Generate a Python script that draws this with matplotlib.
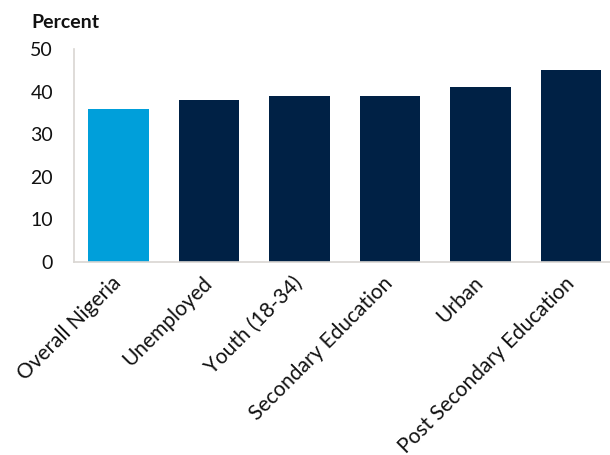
import matplotlib.pyplot as plt

plt.rcParams["font.family"] = ["Lato", "DejaVu Sans"]

# カテゴリと割合 (%)
categories = [
    "Overall Nigeria",
    "Unemployed",
    "Youth (18-34)",
    "Secondary Education",
    "Urban",
    "Post Secondary Education",
]
values = [36, 38, 39, 39, 41, 45]

light_blue = "#009FDA"
navy = "#002145"
colors = [light_blue] + [navy] * (len(values) - 1)

fig = plt.figure(figsize=(6.10, 4.55), dpi=100)
ax = fig.add_axes([74 / 610, 0.424, 1 - 74 / 610, 0.468])

ax.bar(range(len(values)), values, width=0.67, color=colors)

ax.set_ylim(0, 50)
ax.set_xlim(-0.49, 5.43)
ax.set_yticks(range(0, 51, 10))
ax.set_xticks(range(len(categories)))
ax.set_xticklabels(categories, rotation=45, ha="right", va="center",
                   rotation_mode="anchor")

ax.tick_params(axis="both", length=0, colors="#111111")
ax.tick_params(axis="y", labelsize=14, pad=15)
ax.tick_params(axis="x", labelsize=15, pad=13)

for side in ["top", "right"]:
    ax.spines[side].set_visible(False)
for side in ["left", "bottom"]:
    ax.spines[side].set_color("#D9D6D2")
    ax.spines[side].set_linewidth(1.2)

fig.text(31 / 610, 1 - 22 / 455, "Percent", fontsize=14, fontweight="bold",
         va="center", ha="left", color="#111111")

fig.savefig("out.png", dpi=100)
